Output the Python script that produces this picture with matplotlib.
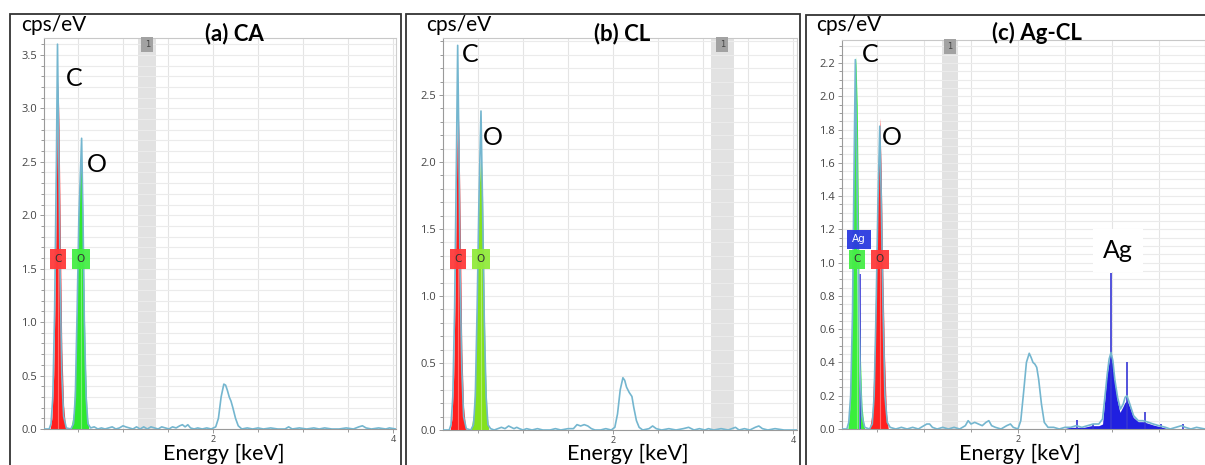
import numpy as np
import matplotlib
matplotlib.use("Agg")
import matplotlib.pyplot as plt
from matplotlib.patches import Rectangle
from matplotlib.ticker import MultipleLocator, FormatStrFormatter

W, H = 1205, 465

# ---- spectrum data (energy keV, cps/eV) ----
spec_a = [
    (0.12, 0.0), (0.18, 0.0), (0.20, 0.05), (0.22, 0.3), (0.24, 1.1), (0.26, 2.5), (0.272, 3.6), (0.285, 2.7),
    (0.30, 1.5), (0.32, 0.5), (0.34, 0.12), (0.37, 0.01),
    (0.42, 0.0), (0.45, 0.05), (0.47, 0.3), (0.49, 1.1), (0.51, 2.0), (0.54, 2.72), (0.555, 2.0), (0.57, 1.0),
    (0.59, 0.3), (0.61, 0.05), (0.64, 0.01),
    (0.68, 0.02), (0.72, 0.0), (0.76, 0.01), (0.80, 0.0), (0.84, 0.01), (0.88, 0.02), (0.92, 0.0), (0.96, 0.01),
    (1.00, 0.03), (1.03, 0.02), (1.07, 0.01), (1.11, 0.0), (1.15, 0.02), (1.19, 0.0), (1.23, 0.02), (1.27, 0.0),
    (1.31, 0.02), (1.35, 0.01), (1.39, 0.0), (1.43, 0.02), (1.47, 0.01), (1.51, 0.0), (1.55, 0.02), (1.59, 0.01),
    (1.63, 0.03), (1.66, 0.04), (1.69, 0.02), (1.72, 0.04), (1.75, 0.01), (1.79, 0.0), (1.83, 0.01), (1.88, 0.0),
    (1.93, 0.01), (1.98, 0.0),
    (2.03, 0.02), (2.06, 0.1), (2.09, 0.3), (2.12, 0.42), (2.14, 0.41), (2.16, 0.36), (2.18, 0.30), (2.20, 0.26),
    (2.22, 0.20), (2.25, 0.10), (2.28, 0.03), (2.32, 0.0),
    (2.38, 0.01), (2.44, 0.0), (2.50, 0.01), (2.56, 0.0), (2.64, 0.01), (2.72, 0.0), (2.80, 0.0), (2.84, 0.02),
    (2.88, 0.0), (2.96, 0.01), (3.04, 0.0), (3.12, 0.01), (3.18, 0.0), (3.24, 0.01), (3.32, 0.0), (3.40, 0.0),
    (3.48, 0.01), (3.56, 0.0), (3.62, 0.02), (3.66, 0.03), (3.70, 0.01), (3.76, 0.0), (3.84, 0.01), (3.92, 0.0),
    (3.96, 0.01), (4.03, 0.0)]
c_fill_a = [(0.19, 0.0), (0.21, 0.1), (0.23, 0.5), (0.25, 1.5), (0.265, 2.7), (0.278, 3.25), (0.29, 2.8),
            (0.305, 1.7), (0.32, 0.75), (0.34, 0.22), (0.36, 0.03), (0.37, 0.0)]
o_fill_a = [(0.42, 0.0), (0.45, 0.15), (0.47, 0.55), (0.49, 1.35), (0.51, 2.15), (0.535, 2.62), (0.55, 2.15),
            (0.565, 1.35), (0.58, 0.65), (0.60, 0.14), (0.62, 0.0)]

spec_b = [
    (0.11, 0.0), (0.18, 0.0), (0.20, 0.04), (0.22, 0.25), (0.24, 0.9), (0.26, 2.0), (0.274, 2.87), (0.288, 2.1),
    (0.30, 1.2), (0.32, 0.45), (0.34, 0.1), (0.37, 0.01),
    (0.42, 0.0), (0.45, 0.04), (0.47, 0.25), (0.49, 0.9), (0.51, 1.7), (0.533, 2.38), (0.55, 1.7), (0.57, 0.8),
    (0.59, 0.25), (0.61, 0.04), (0.64, 0.01),
    (0.68, 0.0), (0.72, 0.01), (0.76, 0.02), (0.80, 0.01), (0.84, 0.03), (0.87, 0.02), (0.90, 0.01), (0.93, 0.02),
    (0.96, 0.01), (1.00, 0.0), (1.04, 0.01), (1.10, 0.0), (1.16, 0.01), (1.22, 0.0), (1.30, 0.0), (1.36, 0.01),
    (1.42, 0.0), (1.50, 0.01), (1.56, 0.01), (1.60, 0.04), (1.64, 0.03), (1.68, 0.04), (1.72, 0.03), (1.76, 0.01),
    (1.80, 0.0), (1.86, 0.0), (1.92, 0.01), (1.98, 0.0),
    (2.02, 0.02), (2.05, 0.12), (2.08, 0.3), (2.11, 0.39), (2.13, 0.37), (2.15, 0.32), (2.18, 0.28), (2.21, 0.25),
    (2.23, 0.17), (2.26, 0.07), (2.29, 0.02), (2.33, 0.0),
    (2.40, 0.01), (2.44, 0.03), (2.48, 0.01), (2.54, 0.0), (2.62, 0.01), (2.70, 0.0), (2.78, 0.01), (2.84, 0.02),
    (2.90, 0.0), (2.96, 0.01), (3.02, 0.0), (3.06, 0.01), (3.12, 0.0), (3.20, 0.01), (3.28, 0.0), (3.36, 0.02),
    (3.40, 0.0), (3.46, 0.01), (3.52, 0.0), (3.58, 0.02), (3.62, 0.03), (3.66, 0.01), (3.72, 0.0), (3.80, 0.01),
    (3.90, 0.0), (4.04, 0.0)]
c_fill_b = [(0.19, 0.0), (0.21, 0.08), (0.23, 0.4), (0.25, 1.2), (0.265, 2.1), (0.278, 2.46), (0.29, 2.15),
            (0.305, 1.4), (0.32, 0.6), (0.34, 0.17), (0.36, 0.03), (0.37, 0.0)]
o_fill_b = [(0.42, 0.0), (0.45, 0.12), (0.47, 0.45), (0.49, 1.1), (0.51, 1.75), (0.533, 2.1), (0.55, 1.75),
            (0.565, 1.1), (0.58, 0.5), (0.60, 0.12), (0.62, 0.0)]

spec_c = [
    (0.13, 0.0), (0.18, 0.0), (0.20, 0.04), (0.22, 0.2), (0.24, 0.7), (0.255, 1.5), (0.27, 2.22), (0.285, 1.6),
    (0.30, 0.9), (0.32, 0.35), (0.34, 0.08), (0.37, 0.01),
    (0.42, 0.0), (0.45, 0.03), (0.47, 0.2), (0.49, 0.7), (0.51, 1.35), (0.53, 1.82), (0.545, 1.4), (0.565, 0.7),
    (0.585, 0.2), (0.61, 0.04), (0.64, 0.01),
    (0.70, 0.0), (0.76, 0.01), (0.82, 0.0), (0.88, 0.01), (0.94, 0.0), (1.00, 0.02), (1.03, 0.03), (1.06, 0.03),
    (1.09, 0.01), (1.14, 0.0), (1.20, 0.01), (1.26, 0.0), (1.32, 0.01), (1.38, 0.0), (1.44, 0.02), (1.47, 0.05),
    (1.50, 0.03), (1.54, 0.04), (1.58, 0.03), (1.62, 0.02), (1.66, 0.04), (1.69, 0.05), (1.72, 0.02), (1.76, 0.01),
    (1.82, 0.0), (1.88, 0.02), (1.92, 0.03), (1.95, 0.01), (2.00, 0.0),
    (2.03, 0.05), (2.06, 0.22), (2.09, 0.40), (2.12, 0.455), (2.14, 0.43), (2.16, 0.40), (2.18, 0.39), (2.20, 0.37),
    (2.22, 0.30), (2.25, 0.15), (2.28, 0.04), (2.32, 0.01),
    (2.38, 0.01), (2.44, 0.0), (2.50, 0.01), (2.56, 0.01), (2.62, 0.02), (2.68, 0.01), (2.74, 0.02), (2.80, 0.03),
    (2.86, 0.03), (2.90, 0.06), (2.93, 0.22), (2.95, 0.33), (2.97, 0.42), (2.99, 0.46), (3.01, 0.41), (3.03, 0.30),
    (3.06, 0.19), (3.09, 0.12), (3.12, 0.15), (3.14, 0.19), (3.16, 0.20), (3.19, 0.15), (3.23, 0.08), (3.28, 0.05),
    (3.33, 0.05), (3.39, 0.04), (3.44, 0.03), (3.50, 0.02), (3.57, 0.01), (3.62, 0.0), (3.68, 0.01), (3.74, 0.02),
    (3.78, 0.01), (3.84, 0.0), (3.90, 0.01), (3.99, 0.0)]
c_fill_c = [(0.19, 0.0), (0.21, 0.12), (0.23, 0.55), (0.245, 1.3), (0.26, 2.0), (0.275, 2.24), (0.29, 1.95),
            (0.305, 1.2), (0.32, 0.5), (0.34, 0.14), (0.36, 0.03), (0.37, 0.0)]
o_fill_c = [(0.42, 0.0), (0.45, 0.1), (0.47, 0.4), (0.49, 0.95), (0.51, 1.55), (0.53, 1.87), (0.545, 1.55),
            (0.56, 1.0), (0.58, 0.45), (0.60, 0.1), (0.62, 0.0)]
ag_fill_c = [(2.48, 0.0), (2.55, 0.01), (2.62, 0.01), (2.70, 0.01), (2.78, 0.02), (2.86, 0.02), (2.90, 0.03),
             (2.926, 0.19), (2.943, 0.31), (2.968, 0.40), (2.986, 0.455), (3.007, 0.39), (3.032, 0.27),
             (3.057, 0.17), (3.085, 0.10), (3.113, 0.13), (3.138, 0.16), (3.163, 0.17), (3.19, 0.13),
             (3.227, 0.07), (3.28, 0.044), (3.33, 0.044), (3.386, 0.034), (3.44, 0.024), (3.51, 0.014),
             (3.58, 0.004), (3.62, 0.0)]
ag_line_e = [0.32, 2.63, 2.80, 2.986, 3.155, 3.35, 3.52, 3.76]
ag_line_h = [0.93, 0.054, 0.03, 0.936, 0.405, 0.10, 0.03, 0.03]

SPEC = "#74b6cf"
RED = "#ff1f1f"
BLUE = "#2020e0"

fig = plt.figure(figsize=(W / 100, H / 100), dpi=100)


def rect(l, r, t, b):
    return [l / W, (H - b) / H, (r - l) / W, (b - t) / H]


panels = [
    dict(box=(10, 401, 14), ax=(44, 396, 38, 429), xlim=(0.122, 4.033), ylim=(0, 3.658), major=0.5, minor=0.1,
         spec=spec_a, fills=[(c_fill_a, RED), (o_fill_a, "#2fe82f")], band=(1.17, 1.37),
         title="(a) CA", tx=234, cps=21, ex=224,
         labels=[("C", 0.456, 3.28), ("O", 0.71, 2.47)],
         tags=[("C", 0.278, 1.59, "#ff3a3a", "#333333"), ("O", 0.533, 1.59, "#45ee45", "#333333")]),
    dict(box=(406, 800, 14), ax=(443, 797, 38, 430), xlim=(0.111, 4.044), ylim=(0, 2.925), major=0.5, minor=0.1,
         spec=spec_b, fills=[(c_fill_b, RED), (o_fill_b, "#84e21c")], band=(3.09, 3.34),
         title="(b) CL", tx=622, cps=426, ex=628,
         labels=[("C", 0.41, 2.80), ("O", 0.667, 2.18)],
         tags=[("C", 0.278, 1.276, "#ff3a3a", "#333333"), ("O", 0.533, 1.276, "#92ea3c", "#333333")]),
    dict(box=(806, 1230, 15), ax=(842, 1205, 40, 429), xlim=(0.128, 3.99), ylim=(0, 2.338), major=0.2, minor=0.05,
         spec=spec_c, fills=[(c_fill_c, "#3aef3a"), (o_fill_c, RED), (ag_fill_c, BLUE)], band=(1.19, 1.36),
         title="(c) Ag-CL", tx=1037, cps=816, ex=1020,
         labels=[("C", 0.425, 2.25), ("O", 0.66, 1.75)],
         tags=[("C", 0.287, 1.02, "#45ee45", "#333333"), ("O", 0.532, 1.02, "#ff3a3a", "#333333"),
               ("Ag", 0.309, 1.14, "#2b3be0", "white")]),
]

for p in panels:
    l, r, t = p["box"]
    fig.add_artist(Rectangle((l / W, -0.1), (r - l) / W, (H - t) / H + 0.1, transform=fig.transFigure,
                             fill=False, ec="#333333", lw=1.3))
    ax = fig.add_axes(rect(*p["ax"]))
    ax.set_xlim(*p["xlim"])
    ax.set_ylim(*p["ylim"])

    ax.xaxis.set_major_locator(MultipleLocator(2))
    ax.xaxis.set_minor_locator(MultipleLocator(0.5))
    ax.yaxis.set_major_locator(MultipleLocator(p["major"]))
    ax.yaxis.set_minor_locator(MultipleLocator(p["minor"]))
    ax.yaxis.set_major_formatter(FormatStrFormatter("%.1f"))
    ax.grid(True, which="both", axis="y", color="#ebebeb", lw=0.8)
    ax.grid(True, which="both", axis="x", color="#e4e4e4", lw=0.8)
    ax.set_axisbelow(True)
    ax.tick_params(which="both", direction="out", color="#9a9a9a", width=0.7)
    ax.tick_params(which="major", length=3)
    ax.tick_params(which="minor", length=2)
    ax.tick_params(axis="y", labelsize=8, labelcolor="#444444", pad=2)
    ax.tick_params(axis="x", labelsize=6.5, labelcolor="#444444", pad=1)
    for lab in ax.get_xticklabels() + ax.get_yticklabels():
        lab.set_fontfamily("Open Sans")
    for side, col in (("left", "#9a9a9a"), ("bottom", "#9a9a9a"), ("top", "#c8c8c8"), ("right", "#cfcfcf")):
        ax.spines[side].set_color(col)
        ax.spines[side].set_linewidth(0.8)

    # region-of-interest band with its tag
    b0, b1 = p["band"]
    ax.axvspan(b0, b1, color="#e2e2e2", lw=0, zorder=0.5)
    ax.text((b0 + b1) / 2, p["ylim"][1] * 0.995, "1", ha="center", va="top", fontsize=6, color="#444444",
            bbox=dict(boxstyle="square,pad=0.4", fc="#a2a2a2", ec="none"))

    for pts, col in p["fills"]:
        e, y = np.array(pts).T
        ax.fill_between(e, 0, y, color=col, lw=0, zorder=2)
    if p is panels[2]:
        ax.vlines(ag_line_e, 0, ag_line_h, color="#3535d5", lw=1.2, zorder=3)

    e, y = np.array(p["spec"]).T
    ax.plot(e, y, color=SPEC, lw=1.2, zorder=3)

    for s, x, y, fc, tc in p["tags"]:
        ax.vlines(x, 0, y, color="white", alpha=0.35, lw=0.8, zorder=3.5)
        ax.text(x, y, s, ha="center", va="center", fontsize=7.5, color=tc, zorder=4,
                bbox=dict(boxstyle="square,pad=0.45", fc=fc, ec="none", alpha=0.95))
    for s, x, y in p["labels"]:
        ax.text(x, y, s, ha="center", va="center", fontsize=18, family="Lato", color="black", zorder=5)

    fig.text(p["tx"] / W, (H - 40) / H, p["title"], ha="center", va="baseline", fontsize=16,
             fontweight="bold", family="Lato")
    fig.text(p["cps"] / W, (H - 25) / H, "cps/eV", ha="left", va="center", fontsize=15, family="Lato")
    fig.text(p["ex"] / W, (H - 444) / H, "Energy [keV]", ha="center", va="top", fontsize=15.5, family="Lato")

# Ag label on panel (c)
ax_c = fig.axes[-1]
ax_c.text(3.06, 1.075, "Ag", ha="center", va="center", fontsize=18, family="Lato", zorder=5,
          bbox=dict(boxstyle="square,pad=0.4", fc="white", ec="none"))

fig.savefig("out.png", dpi=100)
